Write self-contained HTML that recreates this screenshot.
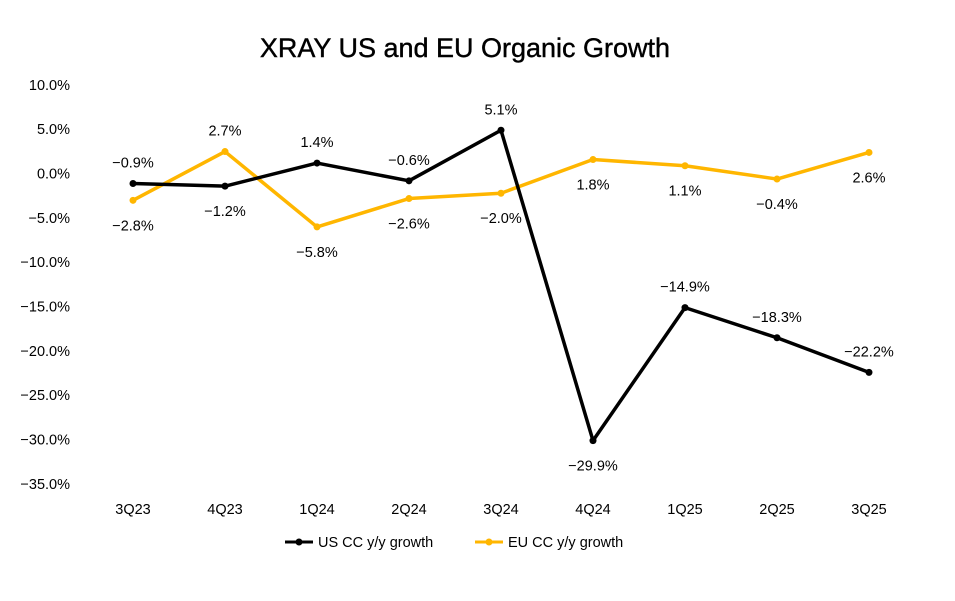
<!DOCTYPE html>
<html><head><meta charset="utf-8">
<style>
body{margin:0;background:#fff;}
svg{display:block;font-family:"Liberation Sans",sans-serif;}
</style></head>
<body>
<svg id="chart" width="955" height="601">
<text x="465" y="57" text-anchor="middle" font-size="27" fill="#000" stroke="#000" stroke-width="0.4">XRAY US and EU Organic Growth</text>
<g id="yaxis"></g>
<g id="xaxis"></g>
<g id="series"></g>
<g>
<g>
<line x1="285" y1="542" x2="313" y2="542" stroke="#000" stroke-width="3"/><circle cx="299" cy="542" r="3.5" fill="#000"/>
<text x="318" y="547" font-size="14.5">US CC y/y growth</text></g>
<g>
<line x1="475" y1="542" x2="503" y2="542" stroke="#FFB600" stroke-width="3"/><circle cx="489" cy="542" r="3.5" fill="#FFB600"/>
<text x="508" y="547" font-size="14.5">EU CC y/y growth</text></g>
</g>
</svg>
<script>
const categories=["3Q23","4Q23","1Q24","2Q24","3Q24","4Q24","1Q25","2Q25","3Q25"];
const usValues=[-0.9,-1.2,1.4,-0.6,5.1,-29.9,-14.9,-18.3,-22.2];
const euValues=[-2.8,2.7,-5.8,-2.6,-2.0,1.8,1.1,-0.4,2.6];
const usLabelAbove=[true,false,true,true,true,false,true,true,true];
const euLabelAbove=[false,true,false,false,false,false,false,false,false];
const yTicks=[10,5,0,-5,-10,-15,-20,-25,-30,-35];
const NS="http://www.w3.org/2000/svg";
function y(v){return 175.5-(v*8.867);}
function x(i){return 133+i*92;}
function mk(t,a,p){const e=document.createElementNS(NS,t);for(const k in a)e.setAttribute(k,a[k]);p.appendChild(e);return e;}
function fmt(v){return (v<0?"\u2212":"")+Math.abs(v).toFixed(1)+"%";}
const ya=document.getElementById('yaxis');
yTicks.forEach(v=>{const t=mk('text',{x:70,y:y(v)+3,'text-anchor':'end','font-size':14.5},ya);t.textContent=fmt(v);

});
const xa=document.getElementById('xaxis');
categories.forEach((c,i)=>{const t=mk('text',{x:x(i),y:514,'text-anchor':'middle','font-size':14.5},xa);t.textContent=c;

});
const sg=document.getElementById('series');
function draw(vals,above,color,name){
const p=mk('polyline',{points:vals.map((v,i)=>x(i)+','+y(v)).join(' '),fill:'none',stroke:color,'stroke-width':3.5,'stroke-linejoin':'round'},sg);


vals.forEach((v,i)=>{const c=mk('circle',{cx:x(i),cy:y(v),r:3.5,fill:color},sg);


const t=mk('text',{x:x(i),y:y(v)+(above[i]?-16:30),'text-anchor':'middle','font-size':14.5,fill:'#000'},sg);t.textContent=fmt(v);

});}
draw(euValues,euLabelAbove,'#FFB600','eu');
draw(usValues,usLabelAbove,'#000','us');
</script>
</body></html>
